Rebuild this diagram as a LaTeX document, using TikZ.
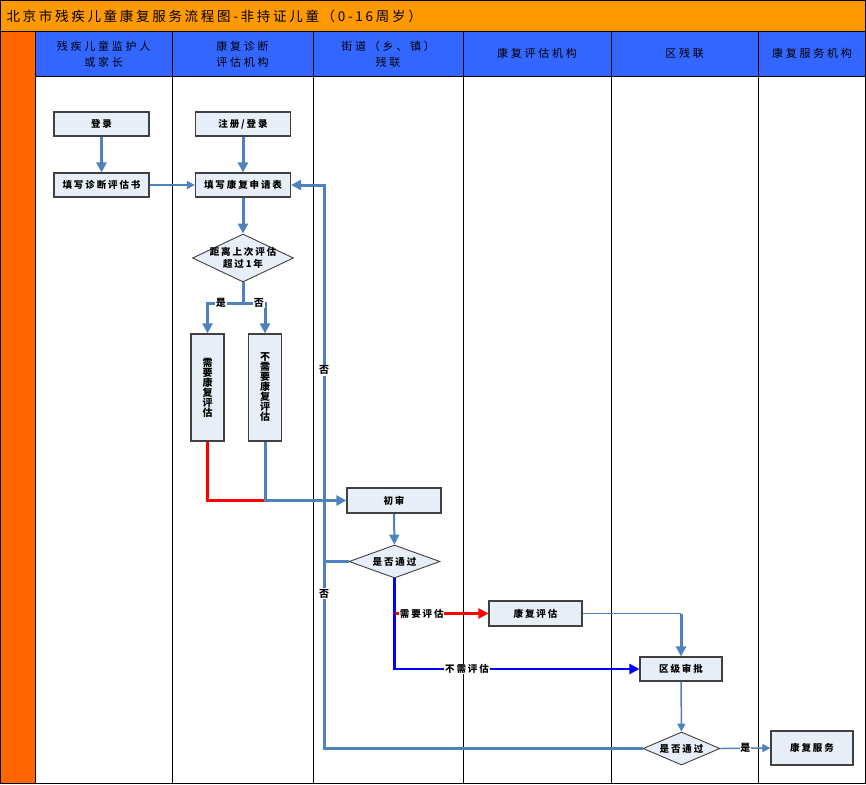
\documentclass[tikz,border=0pt]{standalone}
\usepackage{fontspec}
\setmainfont{Noto Sans CJK SC}
\newfontfamily\titlefont{Noto Sans CJK SC}[LetterSpace=20]
\newfontfamily\hdrfont{Noto Sans CJK SC}[LetterSpace=25]
\newfontfamily\nodefont{Noto Sans CJK SC}[LetterSpace=20]
\newfontfamily\vfont{Noto Sans CJK SC}
\usetikzlibrary{shapes.geometric,arrows.meta}
\definecolor{titleor}{HTML}{FF9900}
\definecolor{stripor}{HTML}{FF6600}
\definecolor{hdrblue}{HTML}{3366FF}
\definecolor{boxfill}{HTML}{E8EEF7}
\definecolor{flow}{HTML}{4F81BD}
\definecolor{dblue}{HTML}{0000FF}
\definecolor{flowred}{HTML}{FF0000}
\begin{document}
\begin{tikzpicture}[x=1pt,y=-1pt,
  box/.style={draw=black!75, fill=boxfill, line width=1.2pt, minimum width=95pt, minimum height=24pt, inner sep=0pt, font=\nodefont\fontsize{9.5}{11}\selectfont\bfseries},
  vbox/.style={draw=black!75, fill=boxfill, line width=1.2pt, minimum width=33pt, minimum height=107pt, inner sep=0pt, align=center, font=\vfont\fontsize{10}{10}\selectfont\bfseries},
  dia/.style={shape=diamond, draw=black!75, fill=boxfill, line width=0.9pt, inner sep=0pt},
  dlabel/.style={align=center, font=\nodefont\fontsize{9.5}{12}\selectfont\bfseries},
  hdrtext/.style={align=center, font=\hdrfont\fontsize{11}{16}\selectfont, text=black},
  lbl/.style={fill=white, inner sep=0.8pt, font=\vfont\fontsize{10}{11}\selectfont\bfseries},
  wlbl/.style={fill=white, inner sep=0.8pt, font=\nodefont\fontsize{9.5}{11}\selectfont\bfseries},
  thickline/.style={draw=flow, line width=3pt},
  thickarrow/.style={thickline, -{Triangle[length=10pt,width=10pt]}},
  midarrow/.style={draw=flow, line width=2pt, -{Triangle[length=10pt,width=10pt]}},
  thinline/.style={draw=flow, line width=1.5pt},
  thinarrow/.style={thinline, -{Triangle[length=8pt,width=8pt]}},
  redarrow/.style={draw=flowred, line width=2.4pt, -{Triangle[length=10pt,width=10pt]}},
  redline/.style={draw=flowred, line width=2.4pt},
  dbarrow/.style={draw=dblue, line width=2.4pt, -{Triangle[length=10pt,width=10pt]}},
  lane/.style={draw=black, line width=0.9pt}
]
\useasboundingbox (0,0) rectangle (866,784);
% background bands
\fill[titleor] (0,0) rectangle (866,31);
\fill[stripor] (0,31) rectangle (35,784);
\fill[hdrblue] (35,31) rectangle (866,76);
\draw[lane] (0,31) -- (866,31);
\draw[lane] (35,76) -- (866,76);
\foreach \xx in {35,172,313,463,611,758} {\draw[lane] (\xx,31) -- (\xx,784);}
\draw[line width=1.4pt] (0.7,0.7) rectangle (865.3,783.3);

\node[anchor=west, font=\titlefont\fontsize{13.5}{15}\selectfont] (title) at (3,16) {北京市残疾儿童康复服务流程图-非持证儿童（0-16周岁）};

\node[hdrtext] (h1) at (103.5,54) {残疾儿童监护人\\或家长};
\node[hdrtext] (h2) at (242.5,54) {康复诊断\\评估机构};
\node[hdrtext] (h3) at (388,54) {街道（乡、镇）\\残联};
\node[hdrtext] (h4) at (537,53) {康复评估机构};
\node[hdrtext] (h5) at (684.5,53) {区残联};
\node[hdrtext] (h6) at (812,53) {康复服务机构};

% nodes
\node[box] (login) at (101.5,124) {登录};
\node[box] (reg) at (243,124) {注册/登录};
\node[box] (diag) at (101.5,185) {填写诊断评估书};
\node[box] (apply) at (243,185) {填写康复申请表};
\node[dia, minimum width=101pt, minimum height=48pt, label={[dlabel]center:{距离上次评估\\超过1年}}] (over) at (243,258) {};
\node[vbox] (need) at (207.5,387.5) {需\\要\\康\\复\\评\\估};
\node[vbox] (noneed) at (265,387.5) {不\\需\\要\\康\\复\\评\\估};
\node[box, minimum width=94pt, minimum height=25pt] (first) at (394,500.5) {初审};
\node[dia, minimum width=91pt, minimum height=33pt, label={[dlabel]center:是否通过}] (pass1) at (394.5,561.5) {};
\node[box, minimum width=93pt, minimum height=25pt] (assess) at (535.5,613.5) {康复评估};
\node[box, minimum width=82pt, minimum height=24pt] (approve) at (681,669) {区级审批};
\node[dia, minimum width=77pt, minimum height=33pt, label={[dlabel]center:是否通过}] (pass2) at (681.5,748.5) {};
\node[box, minimum width=82pt, minimum height=34pt] (service) at (812,748) {康复服务};

% helper coordinates
\coordinate (split) at (243,303);
\coordinate (lt) at (324,185);
\coordinate (lb) at (324,748.5);

% connectors
\draw[thickarrow] (login) -- (diag);
\draw[thickarrow] (reg) -- (apply);
\draw[thinarrow] (diag) -- (apply);
\draw[thickarrow] (apply) -- (over);
\draw[thickline] (over.south) -- (split);
\draw[thickarrow] (split) -| node[lbl, pos=0.31] {是} (need.north);
\draw[thickarrow] (split) -| node[lbl, pos=0.36] {否} (noneed.north);
\draw[redline] (need.south) |- (noneed.south |- first.west);
\draw[thickarrow] (noneed.south) |- (first.west);
\draw[thickarrow] (pass2.west) -- (lb) -- node[lbl, pos=0.275] {否} node[lbl, pos=0.671] {否} (lt) -- (apply.east);
\draw[thickline] (pass1.west) -- (pass1.west -| lt);
\draw[midarrow] (first) -- (pass1);
\draw[dbarrow] (pass1.south) |- node[wlbl, pos=0.648] {不需评估} (approve.west);
\draw[redarrow] (pass1.south |- assess.west) -- node[wlbl, pos=0.29] {需要评估} (assess.west);
\draw[thinline] (assess.east) -- (assess.east -| approve.north);
\draw[thickarrow] (assess.east -| approve.north) -- (approve.north);
\draw[thinarrow] (approve) -- (pass2);
\draw[thinarrow] (pass2.east) -- node[lbl] {是} (service.west);
\end{tikzpicture}
\end{document}
